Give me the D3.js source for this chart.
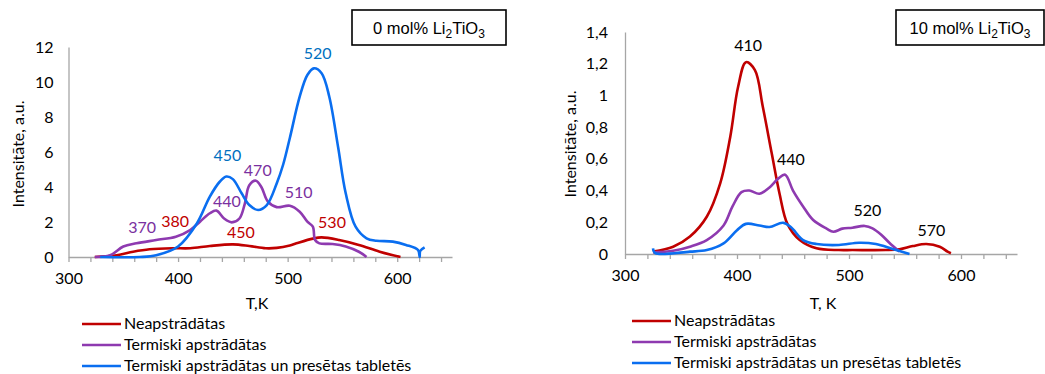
<!DOCTYPE html>
<html>
<head>
<meta charset="utf-8">
<script src="https://cdn.jsdelivr.net/npm/d3@7"></script>
<style>
  body { margin: 0; background: #fff; }
  svg { display: block; font-family: Lato, 'Open Sans', sans-serif; }
  .axis path, .axis line { stroke: #a6a6a6; stroke-width: 1.3px; }
  .axis text { font-family: Lato, sans-serif; font-size: 16px; fill: #000; }
</style>
</head>
<body>
<svg id="chart" width="1045" height="374"></svg>
<script>
// Series names and colours
var seriesNames = ['Neapstrādātas', 'Termiski apstrādātas', 'Termiski apstrādātas un presētas tabletēs']
var seriesColors = ['#c00000', '#8e3ab0', '#0a6ef0']

// 0 mol% Li2TiO3 curves (T, K and intensity)
var leftRedT = [324, 344, 359, 374, 395, 411, 429, 450, 465, 480, 490, 502, 508, 523, 531, 547, 565, 584, 603]
var leftRedV = [0, 0.1, 0.3, 0.44, 0.5, 0.5, 0.63, 0.72, 0.63, 0.5, 0.52, 0.66, 0.78, 1.05, 1.12, 0.97, 0.69, 0.3, 0]
var leftPurpleT = [324, 338, 350, 362, 380, 398, 411, 420, 429, 435, 442, 449, 456, 461, 465, 471, 476, 482, 490, 502, 511, 518, 523, 525, 529, 541, 553, 565, 572]
var leftPurpleV = [0, 0.1, 0.6, 0.78, 0.97, 1.16, 1.54, 2.02, 2.5, 2.65, 2.2, 1.98, 2.2, 3.07, 4.1, 4.36, 4.0, 3.16, 2.85, 2.93, 2.59, 2.02, 1.73, 0.97, 0.78, 0.74, 0.6, 0.3, 0]
var leftBlueT = [329, 365, 380, 400, 417, 429, 438, 444, 450, 458, 465, 473, 481, 490, 496, 502, 511, 518, 524, 531, 538, 546, 553, 562, 572, 581, 596, 608, 619, 620.5, 621, 625]
var leftBlueV = [0, 0, 0.1, 0.6, 1.9, 3.45, 4.3, 4.6, 4.45, 3.64, 2.97, 2.69, 2.97, 4.2, 5.3, 6.8, 9.16, 10.4, 10.78, 10.5, 9.16, 6.3, 3.64, 1.73, 1.07, 0.93, 0.88, 0.69, 0.4, 0, 0.35, 0.55]

// 10 mol% Li2TiO3 curves
var rightRedT = [325, 343, 358, 373, 385, 394, 401, 408, 416, 423, 431, 438, 445, 456, 471, 491, 503, 533, 545, 557, 569, 581, 588, 591]
var rightRedV = [0.015, 0.046, 0.11, 0.235, 0.446, 0.74, 1.055, 1.21, 1.16, 0.93, 0.635, 0.38, 0.19, 0.088, 0.036, 0.025, 0.025, 0.025, 0.03, 0.05, 0.063, 0.046, 0.015, 0.005]
var rightPurpleT = [325, 343, 358, 373, 388, 396, 404, 411, 420, 429, 437, 443, 450, 459, 468, 480, 486, 494, 503, 514, 521, 529, 536, 545]
var rightPurpleV = [0.01, 0.02, 0.046, 0.088, 0.18, 0.3, 0.39, 0.4, 0.38, 0.42, 0.477, 0.5, 0.4, 0.3, 0.214, 0.16, 0.14, 0.16, 0.166, 0.177, 0.162, 0.12, 0.071, 0.015]
var rightBlueT = [325, 327, 358, 373, 388, 400, 408, 420, 429, 441, 448, 459, 471, 491, 509, 524, 539, 554]
var rightBlueV = [0.035, 0.005, 0.015, 0.025, 0.067, 0.15, 0.19, 0.18, 0.17, 0.197, 0.17, 0.088, 0.063, 0.057, 0.071, 0.063, 0.032, 0]

// Peak labels
var leftLabelT = [520, 445, 470, 440, 510, 370, 380, 450, 530]
var leftLabelV = [10.8, 4.6, 4.36, 2.65, 2.93, 0.97, 0.5, 0.72, 1.12]
var leftLabelText = ['520', '450', '470', '440', '510', '370', '380', '450', '530']
var leftLabelSeries = [2, 2, 1, 1, 1, 1, 0, 0, 0]
var rightLabelT = [410, 440, 520, 570]
var rightLabelV = [1.21, 0.5, 0.177, 0.063]
var rightLabelText = ['410', '440', '520', '570']

// Axis ticks
var xTicks = d3.range(300, 641, 20)
var leftYTicks = [0, 2, 4, 6, 8, 10, 12]
var rightYTicks = [0, 0.2, 0.4, 0.6, 0.8, 1, 1.2, 1.4]

var svg = d3.select('#chart')

function drawPanel (opt) {
  var x = d3.scaleLinear().domain([300, 650]).range(opt.xRange)
  var y = d3.scaleLinear().domain(opt.yDomain).range(opt.yRange)
  var g = svg.append('g')

  // X axis: minor ticks every 20, labels every 100
  g.append('g')
    .attr('class', 'axis')
    .attr('transform', 'translate(0,' + opt.yRange[0] + ')')
    .call(d3.axisBottom(x)
      .tickValues(xTicks)
      .tickSizeInner(5)
      .tickSizeOuter(0)
      .tickPadding(11)
      .tickFormat(function (d) { return d % 100 === 0 ? d : '' }))

  // Y axis
  g.append('g')
    .attr('class', 'axis')
    .attr('transform', 'translate(' + opt.xRange[0] + ',0)')
    .call(d3.axisLeft(y)
      .tickValues(opt.yTicks)
      .tickSize(0)
      .tickPadding(opt.yPad)
      .tickFormat(opt.yFormat))

  // Curves
  var line = d3.line()
    .x(function (d) { return x(d[0]) })
    .y(function (d) { return y(d[1]) })
    .curve(d3.curveCatmullRom.alpha(0.5))

  opt.series.forEach(function (s, i) {
    g.append('path')
      .datum(d3.zip(s[0], s[1]))
      .attr('fill', 'none')
      .attr('stroke', seriesColors[i])
      .attr('stroke-width', 2.6)
      .attr('stroke-linejoin', 'round')
      .attr('d', line)
  })

  // Peak labels
  opt.labelT.forEach(function (t, i) {
    g.append('text')
      .attr('x', x(t) + opt.labelDx[i])
      .attr('y', y(opt.labelV[i]) + opt.labelDy[i])
      .attr('text-anchor', 'middle')
      .style('font-size', '16px')
      .style('fill', opt.labelColor(i))
      .text(opt.labelText[i])
  })

  // Axis titles
  g.append('text')
    .attr('transform', 'translate(' + opt.yTitleX + ',' + opt.yTitleY + ') rotate(-90)')
    .attr('text-anchor', 'middle')
    .style('font-size', '16px')
    .text('Intensitāte, a.u.')

  g.append('text')
    .attr('x', opt.xTitleX)
    .attr('y', 309)
    .attr('text-anchor', 'middle')
    .style('font-size', '16px')
    .text(opt.xTitle)

  // Title box
  g.append('rect')
    .attr('x', opt.box[0]).attr('y', opt.box[1])
    .attr('width', opt.box[2]).attr('height', opt.box[3])
    .attr('fill', '#fff').attr('stroke', '#000').attr('stroke-width', 1.6)
  var title = g.append('text')
    .attr('x', opt.box[0] + opt.box[2] / 2)
    .attr('y', opt.box[1] + 24)
    .attr('text-anchor', 'middle')
    .style('font-family', "'Liberation Sans', Arial, sans-serif")
    .style('font-size', '16.5px')
  title.append('tspan').text(opt.boxText + ' Li')
  title.append('tspan').attr('dy', 4).style('font-size', '12px').text('2')
  title.append('tspan').attr('dy', -4).text('TiO')
  title.append('tspan').attr('dy', 4).style('font-size', '12px').text('3')

  // Legend
  seriesNames.forEach(function (name, i) {
    var ly = opt.legendY + i * 21
    g.append('line')
      .attr('x1', opt.legendX).attr('x2', opt.legendX + 39)
      .attr('y1', ly).attr('y2', ly)
      .attr('stroke', seriesColors[i]).attr('stroke-width', 2.6)
    g.append('text')
      .attr('x', opt.legendX + 42)
      .attr('y', ly + 5)
      .style('font-size', '16px')
      .text(name)
  })
}

drawPanel({
  xRange: [68.5, 452],
  yDomain: [0, 12],
  yRange: [257, 47],
  yTicks: leftYTicks,
  yPad: 15,
  yFormat: function (d) { return d },
  series: [[leftRedT, leftRedV], [leftPurpleT, leftPurpleV], [leftBlueT, leftBlueV]],
  labelT: leftLabelT,
  labelV: leftLabelV,
  labelText: leftLabelText,
  labelDx: [8, 0, 3, 5, 0, -3, 19, 8, 11.5],
  labelDy: [-9, -15.5, -4.7, -3.6, -7.7, -7, -21, -6.4, -9.4],
  labelColor: function (i) { return ['#c00000', '#7a30a0', '#0070c0'][leftLabelSeries[i]] },
  yTitleX: 24,
  yTitleY: 154,
  xTitleX: 257,
  xTitle: 'T,K',
  box: [352, 10, 154, 35],
  boxText: '0 mol%',
  legendX: 82,
  legendY: 324
})

drawPanel({
  xRange: [625, 1017],
  yDomain: [0, 1.4],
  yRange: [254, 32],
  yTicks: rightYTicks,
  yPad: 17,
  yFormat: function (d) { return String(d).replace('.', ',') },
  series: [[rightRedT, rightRedV], [rightPurpleT, rightPurpleV], [rightBlueT, rightBlueV]],
  labelT: rightLabelT,
  labelV: rightLabelV,
  labelText: rightLabelText,
  labelDx: [0, 9, -4, 4],
  labelDy: [-11, -9.7, -10, -8],
  labelColor: function () { return '#000' },
  yTitleX: 576,
  yTitleY: 144,
  xTitleX: 823,
  xTitle: 'T, K',
  box: [896, 10, 148, 35],
  boxText: '10 mol%',
  legendX: 632,
  legendY: 321
})
</script>
</body>
</html>
